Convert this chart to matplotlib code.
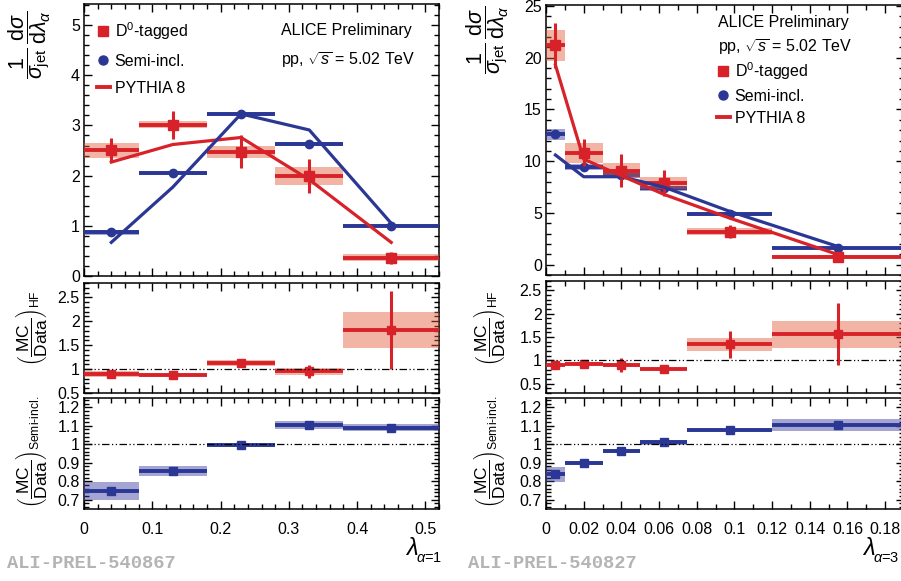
import numpy as np
import matplotlib
matplotlib.use("Agg")
import matplotlib.pyplot as plt
from matplotlib.ticker import MultipleLocator, FormatStrFormatter
from matplotlib.lines import Line2D

plt.rcParams['font.family'] = ['Liberation Sans', 'DejaVu Sans']
plt.rcParams['mathtext.fontset'] = 'custom'
plt.rcParams['mathtext.rm'] = 'Liberation Sans'
plt.rcParams['mathtext.it'] = 'Liberation Sans:italic'
plt.rcParams['mathtext.bf'] = 'Liberation Sans:bold'

# ---- data, lambda alpha=1 ----
edges1 = np.array([0, 0.08, 0.18, 0.28, 0.38, 0.52])
d0_1 = np.array([2.51, 3.01, 2.48, 2.00, 0.36])
d0_1_stat = np.array([0.23, 0.28, 0.32, 0.34, 0.12])
d0_1_sys = np.array([0.15, 0.07, 0.12, 0.18, 0.07])
semi_1 = np.array([0.87, 2.05, 3.23, 2.63, 1.00])
semi_1_stat = np.array([0.02, 0.02, 0.03, 0.03, 0.02])
semi_1_sys = np.array([0.05, 0.04, 0.04, 0.04, 0.03])
pyhf_1 = np.array([2.27, 2.62, 2.76, 1.92, 0.67])
pysemi_1 = np.array([0.67, 1.77, 3.23, 2.91, 1.05])
rhf_1 = np.array([0.90, 0.87, 1.12, 0.95, 1.82])
rhf_1_stat = np.array([0.04, 0.04, 0.07, 0.14, 0.82])
rhf_1_sys = np.array([0.06, 0.02, 0.06, 0.07, 0.37])
rsemi_1 = np.array([0.748, 0.854, 0.995, 1.105, 1.090])
rsemi_1_stat = np.array([0.008, 0.008, 0.008, 0.008, 0.008])
rsemi_1_sys = np.array([0.05, 0.027, 0.008, 0.02, 0.02])

# ---- data, lambda alpha=3 ----
edges3 = np.array([0, 0.01, 0.03, 0.05, 0.075, 0.12, 0.19])
d0_3 = np.array([21.2, 10.8, 9.1, 7.9, 3.2, 0.78])
d0_3_stat = np.array([2.2, 1.3, 1.6, 1.25, 0.65, 0.3])
d0_3_sys = np.array([1.5, 1.0, 0.7, 0.55, 0.3, 0.15])
semi_3 = np.array([12.6, 9.45, 8.7, 7.4, 4.9, 1.6])
semi_3_stat = np.array([0.15, 0.12, 0.12, 0.1, 0.08, 0.05])
semi_3_sys = np.array([0.55, 0.3, 0.3, 0.25, 0.15, 0.1])
pyhf_3 = np.array([19.3, 10.2, 8.6, 6.8, 4.5, 0.97])
pysemi_3 = np.array([10.6, 8.5, 8.5, 7.5, 5.15, 1.75])
rhf_3 = np.array([0.91, 0.93, 0.90, 0.82, 1.34, 1.56])
rhf_3_stat = np.array([0.05, 0.06, 0.15, 0.08, 0.29, 0.66])
rhf_3_sys = np.array([0.04, 0.04, 0.05, 0.02, 0.13, 0.29])
rsemi_3 = np.array([0.838, 0.900, 0.964, 1.010, 1.075, 1.104])
rsemi_3_stat = np.array([0.008, 0.008, 0.008, 0.008, 0.008, 0.008])
rsemi_3_sys = np.array([0.04, 0.01, 0.01, 0.015, 0.01, 0.035])

RED = '#d8222a'
BLUE = '#2b3794'
RED_BOX = (0.89, 0.36, 0.22)
BLUE_BOX = (0.22, 0.22, 0.62)

W, H = 901, 581
fig = plt.figure(figsize=(W / 100, H / 100), dpi=100)


def px_axes(x0, y0, x1, y1):
    return fig.add_axes([x0 / W, 1 - y1 / H, (x1 - x0) / W, (y1 - y0) / H])


def style(ax, xmaj, xmin, ymaj, ymin, xlabels):
    ax.xaxis.set_major_locator(MultipleLocator(xmaj))
    ax.xaxis.set_minor_locator(MultipleLocator(xmin))
    ax.yaxis.set_major_locator(MultipleLocator(ymaj))
    ax.yaxis.set_minor_locator(MultipleLocator(ymin))
    ax.yaxis.set_major_formatter(FormatStrFormatter('%g'))
    ax.xaxis.set_major_formatter(FormatStrFormatter('%g'))
    ax.tick_params(which='both', direction='in', top=True, right=True,
                   labelsize=11.5, width=1.0)
    ax.tick_params(which='major', length=6)
    ax.tick_params(which='minor', length=3.5)
    ax.tick_params(axis='y', pad=3)
    ax.tick_params(axis='x', pad=9, labelbottom=xlabels)
    for s in ax.spines.values():
        s.set_linewidth(1.1)


def draw_points(ax, edges, vals, stat, sys, color, boxcolor, marker, ms, z=3):
    left = edges[:-1]
    width = np.diff(edges)
    centers = left + width / 2
    ax.bar(left, 2 * sys, bottom=vals - sys, width=width, align='edge',
           color=boxcolor, alpha=0.45, linewidth=0, zorder=z)
    ax.hlines(vals, left, edges[1:], color=color, lw=2.8, zorder=z + 0.1)
    ax.errorbar(centers, vals, yerr=stat, fmt=marker, color=color, ms=ms,
                elinewidth=2.2, capsize=0, zorder=z + 0.2)
    return centers


def unity(ax, x1):
    ax.plot([0, x1], [1, 1], color='black', lw=0.9,
            linestyle=(0, (6, 2, 1, 2, 1, 2)), zorder=10)


# ---------------- left column ----------------
axL1 = px_axes(84, 4, 439, 276)
axL2 = px_axes(84, 283, 439, 393)
axL3 = px_axes(84, 398, 439, 509)

c1 = draw_points(axL1, edges1, semi_1, semi_1_stat, semi_1_sys, BLUE, BLUE_BOX, 'o', 6, z=3)
draw_points(axL1, edges1, d0_1, d0_1_stat, d0_1_sys, RED, RED_BOX, 's', 6.5, z=4)
axL1.plot(c1, pyhf_1, color=RED, lw=2.3, zorder=6)
axL1.plot(c1, pysemi_1, color=BLUE, lw=2.3, zorder=6)
axL1.set_xlim(0, 0.52)
axL1.set_ylim(0, 5.42)
style(axL1, 0.1, 0.02, 1, 0.2, False)

draw_points(axL2, edges1, rhf_1, rhf_1_stat, rhf_1_sys, RED, RED_BOX, 's', 6)
unity(axL2, 0.52)
axL2.set_xlim(0, 0.52)
axL2.set_ylim(0.5, 2.8)
style(axL2, 0.1, 0.02, 0.5, 0.1, False)

draw_points(axL3, edges1, rsemi_1, rsemi_1_stat, rsemi_1_sys, BLUE, BLUE_BOX, 's', 6)
unity(axL3, 0.52)
axL3.set_xlim(0, 0.52)
axL3.set_ylim(0.65, 1.25)
style(axL3, 0.1, 0.02, 0.1, 0.02, True)

# ---------------- right column ----------------
axR1 = px_axes(546, 5, 904, 275)
axR2 = px_axes(546, 281, 904, 393)
axR3 = px_axes(546, 398, 904, 509)

c3 = draw_points(axR1, edges3, semi_3, semi_3_stat, semi_3_sys, BLUE, BLUE_BOX, 'o', 6, z=3)
draw_points(axR1, edges3, d0_3, d0_3_stat, d0_3_sys, RED, RED_BOX, 's', 6.5, z=4)
axR1.plot(c3, pyhf_3, color=RED, lw=2.3, zorder=6)
axR1.plot(c3, pysemi_3, color=BLUE, lw=2.3, zorder=5.9)
axR1.set_xlim(0, 0.19)
axR1.set_ylim(-1, 25.1)
style(axR1, 0.02, 0.01, 5, 1, False)

draw_points(axR2, edges3, rhf_3, rhf_3_stat, rhf_3_sys, RED, RED_BOX, 's', 6)
unity(axR2, 0.19)
axR2.set_xlim(0, 0.19)
axR2.set_ylim(0.3, 2.7)
style(axR2, 0.02, 0.01, 0.5, 0.1, False)

draw_points(axR3, edges3, rsemi_3, rsemi_3_stat, rsemi_3_sys, BLUE, BLUE_BOX, 's', 6)
unity(axR3, 0.19)
axR3.set_xlim(0, 0.19)
axR3.set_ylim(0.65, 1.25)
style(axR3, 0.02, 0.01, 0.1, 0.02, True)

# ---------------- legends and texts ----------------
handles = [Line2D([], [], color=RED, marker='s', ls='none', ms=7),
           Line2D([], [], color=BLUE, marker='o', ls='none', ms=6.5),
           Line2D([], [], color=RED, lw=2.8)]
labels = ['D$^0$-tagged', 'Semi-incl.', 'PYTHIA 8']
fig.legend(handles, labels, loc='upper left', bbox_to_anchor=(97 / W, 1 - 20 / H),
           frameon=False, fontsize=11.5, handlelength=0.8, handletextpad=0.3,
           labelspacing=0.75, borderpad=0, borderaxespad=0)
fig.legend(handles, labels, loc='upper left', bbox_to_anchor=(717 / W, 1 - 60 / H),
           frameon=False, fontsize=11.5, handlelength=0.8, handletextpad=0.3,
           labelspacing=0.45, borderpad=0, borderaxespad=0)

fig.text(281 / W, 1 - 31 / H, 'ALICE Preliminary', fontsize=11.5, va='center')
fig.text(281 / W, 1 - 60 / H, r'pp, $\sqrt{s}$ = 5.02 TeV', fontsize=11.5, va='center')
fig.text(718 / W, 1 - 23 / H, 'ALICE Preliminary', fontsize=11.5, va='center')
fig.text(718 / W, 1 - 47 / H, r'pp, $\sqrt{s}$ = 5.02 TeV', fontsize=11.5, va='center')

ylab_top = r'$\dfrac{1}{\sigma_{\rm jet}}\,\dfrac{{\rm d}\sigma}{{\rm d}\lambda_{\alpha}}$'
ylab_hf = r'$\left(\dfrac{\rm MC}{\rm Data}\right)_{\rm HF}$'
ylab_semi = r'$\left(\dfrac{\rm MC}{\rm Data}\right)_{\rm Semi\text{-}incl.}$'
for xc, top_y in [(30, 45), (488, 40)]:
    fig.text(xc / W, 1 - top_y / H, ylab_top, fontsize=15.5, rotation=90,
             ha='center', va='center')
for xc in [31, 489]:
    fig.text(xc / W, 1 - 328 / H, ylab_hf, fontsize=12.5, rotation=90,
             ha='center', va='center')
    fig.text(xc / W, 1 - 452 / H, ylab_semi, fontsize=12.5, rotation=90,
             ha='center', va='center')

# x axis titles: lambda with subscript written as plain text (no relation spacing)
for xl, sub in [(418, r'$\alpha$=1'), (875, r'$\alpha$=3')]:
    fig.text(xl / W, 1 - 549 / H, r'$\lambda$', fontsize=17, ha='right',
             va='center')
    fig.text((xl - 2) / W, 1 - 558 / H, sub, fontsize=10.5, ha='left',
             va='center')

fig.text(7 / W, 1 - 564 / H, 'ALI-PREL-540867', family='Liberation Mono', weight='bold',
         fontsize=13.5, color='#b4b4b4', va='center')
fig.text(468 / W, 1 - 564 / H, 'ALI-PREL-540827', family='Liberation Mono', weight='bold',
         fontsize=13.5, color='#b4b4b4', va='center')

fig.savefig('out.png', dpi=100)
